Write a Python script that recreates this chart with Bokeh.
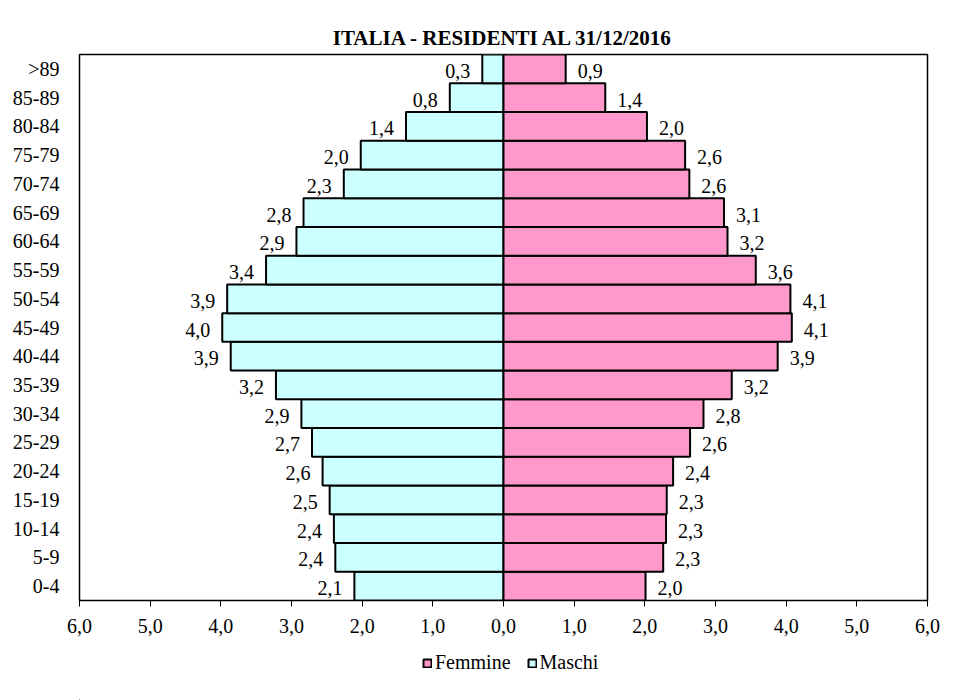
from bokeh.plotting import figure
from bokeh.layouts import column
from bokeh.models import ColumnDataSource, FactorRange, Range1d, FixedTicker, CustomJSTickFormatter, Legend, LegendItem
from bokeh.embed import file_html
from bokeh.resources import INLINE

# ---- data ----
ages = ["0-4", "5-9", "10-14", "15-19", "20-24", "25-29", "30-34", "35-39", "40-44",
        "45-49", "50-54", "55-59", "60-64", "65-69", "70-74", "75-79", "80-84", "85-89", ">89"]
maschi = [2.11, 2.38, 2.40, 2.46, 2.56, 2.71, 2.86, 3.22, 3.86, 3.98,
          3.91, 3.36, 2.93, 2.83, 2.26, 2.02, 1.38, 0.76, 0.30]
femmine = [2.01, 2.26, 2.30, 2.31, 2.40, 2.64, 2.83, 3.23, 3.88, 4.08,
           4.06, 3.57, 3.17, 3.12, 2.63, 2.57, 2.03, 1.44, 0.88]
x_ticks = [-6, -5, -4, -3, -2, -1, 0, 1, 2, 3, 4, 5, 6]
title = "ITALIA - RESIDENTI AL 31/12/2016"
series_names = ["Femmine", "Maschi"]
series_colors = ["#FF99CC", "#CCFFFF"]

FONT = "Liberation Serif"
FS = "20px"

def fmt(v):
    return f"{v:.1f}".replace(".", ",")

src = ColumnDataSource(dict(
    age=ages,
    m_left=[-v for v in maschi],
    zero=[0] * len(ages),
    f_right=femmine,
    m_lab=[fmt(v) for v in maschi],
    f_lab=[fmt(v) for v in femmine],
))

p = figure(frame_width=848, frame_height=546, y_range=FactorRange(*ages, range_padding=0),
           x_range=Range1d(-6, 6), output_backend="svg", toolbar_location=None,
           title=title, min_border_left=79, min_border_right=26,
           min_border_top=54, min_border_bottom=46)

p.background_fill_color = "white"
p.border_fill_color = "white"
p.outline_line_color = "black"
p.outline_line_width = 1.5
p.xgrid.visible = False
p.ygrid.visible = False

p.title.text_font = FONT
p.title.text_font_style = "bold"
p.title.text_font_size = "21px"
p.title.align = "center"
p.title.text_color = "black"

m = p.hbar(y="age", left="m_left", right="zero", height=1.0, source=src,
           fill_color=series_colors[1], line_color="black", line_width=2)
f = p.hbar(y="age", left="zero", right="f_right", height=1.0, source=src,
           fill_color=series_colors[0], line_color="black", line_width=2)

p.text(x="m_left", y="age", text="m_lab", source=src, text_align="right",
       text_baseline="middle", x_offset=-12, y_offset=2, text_font=dict(value=FONT),
       text_font_size=FS, text_color="black")
p.text(x="f_right", y="age", text="f_lab", source=src, text_align="left",
       text_baseline="middle", x_offset=12, y_offset=2, text_font=dict(value=FONT),
       text_font_size=FS, text_color="black")

xa = p.xaxis[0]
xa.ticker = FixedTicker(ticks=x_ticks)
xa.formatter = CustomJSTickFormatter(code="return Math.abs(tick).toFixed(1).replace('.', ',');")
xa.major_label_text_font = FONT
xa.major_label_text_font_size = FS
xa.major_label_text_color = "black"
xa.axis_line_color = "black"
xa.major_tick_line_color = "black"
xa.major_tick_in = 0
xa.major_tick_out = 6
xa.minor_tick_line_color = None
xa.major_label_standoff = 12

ya = p.yaxis[0]
ya.major_label_text_font = FONT
ya.major_label_text_font_size = FS
ya.major_label_text_color = "black"
ya.axis_line_color = None
ya.major_tick_line_color = None
ya.minor_tick_line_color = None
ya.major_label_standoff = 14

# legend strip below the chart (its swatch renderers sit outside the visible range)
lg = figure(width=953, height=54, x_range=Range1d(0, 1), y_range=Range1d(0, 1),
            output_backend="svg", toolbar_location=None, min_border=0)
lg.axis.visible = False
lg.grid.visible = False
lg.outline_line_color = None
lg.background_fill_color = "white"
lg.border_fill_color = "white"
r_items = []
for name, col in zip(series_names, series_colors):
    r = lg.hbar(y=[-10], left=[-10], right=[-9], height=1.0, fill_color=col,
                line_color="black", line_width=2)
    r_items.append(LegendItem(label=name, renderers=[r]))

legend = Legend(items=r_items, orientation="horizontal", location=(343, 26),
                label_text_font=FONT, label_text_font_size=FS, label_text_color="black",
                glyph_width=10, glyph_height=10, label_standoff=3,
                spacing=16, padding=0, margin=0,
                border_line_color=None, background_fill_alpha=0)
lg.add_layout(legend, "center")

layout = column(p, lg, spacing=0)
open("out.html", "w").write(file_html(layout, INLINE))
